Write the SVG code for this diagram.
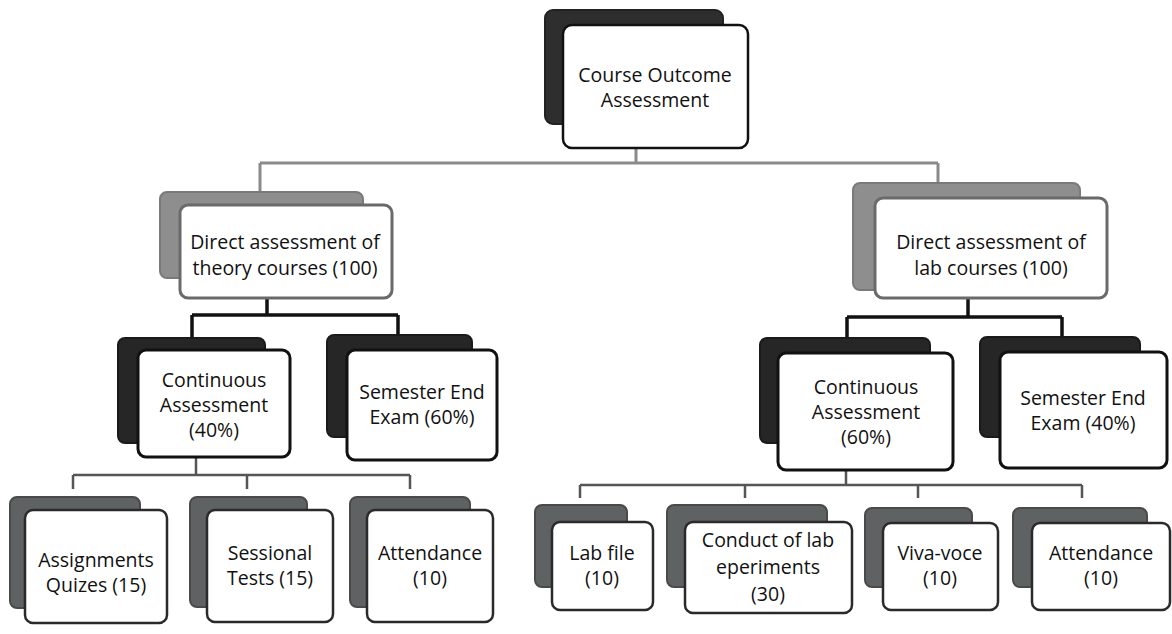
<svg xmlns="http://www.w3.org/2000/svg" width="1172" height="634" viewBox="0 0 1172 634">
<style>
text{font-family:"Open Sans","Liberation Sans",sans-serif;font-size:19.5px;fill:#111;text-anchor:middle}
.f{fill:#fff}
.s1{fill:#2e2e2e;stroke:#222;stroke-width:2}
.f1{stroke:#111;stroke-width:2.5}
.s2{fill:#8e8e8e;stroke:#7a7a7a;stroke-width:2}
.f2{stroke:#6a6a6a;stroke-width:3}
.s3{fill:#262626;stroke:#1a1a1a;stroke-width:2}
.f3{stroke:#111;stroke-width:3}
.s4{fill:#5f6262;stroke:#4a4a4a;stroke-width:2}
.f4{stroke:#2a2a2a;stroke-width:2.5}
.c1{stroke:#8a8a8a;stroke-width:3;fill:none}
.c2{stroke:#111;stroke-width:3.5;fill:none}
.c3{stroke:#555;stroke-width:2.5;fill:none}
</style>
<rect width="1172" height="634" fill="#fff"/>
<g id="connectors">
<path class="c1" d="M636 148V163M260 163H938M260 163V192M938 163V183"/>
<path class="c2" d="M267 298V315M192 315H398M192 315V338M398 315V335"/>
<path class="c2" d="M968 298V317M847 317H1062M847 317V338M1062 317V337"/>
<path class="c3" d="M196 457V475M73 475H410M73 475V489M247 475V489M410 475V489"/>
<path class="c3" d="M846 470V485M580 485H1082M580 485V498M745 485V498M918 485V498M1082 485V498"/>
</g>
<g id="course-outcome">
<rect class="s1" x="545" y="10" width="178" height="114" rx="8"/>
<rect class="f f1" x="563" y="25" width="185" height="123" rx="9"/>
<text x="655" y="82">Course Outcome</text>
<text x="655" y="107">Assessment</text>
</g>
<g id="theory">
<rect class="s2" x="160" y="192" width="203" height="86" rx="7"/>
<rect class="f f2" x="180" y="205" width="212" height="93" rx="8"/>
<text x="285" y="249">Direct assessment of</text>
<text x="285" y="275">theory courses (100)</text>
</g>
<g id="lab">
<rect class="s2" x="853" y="183" width="227" height="107" rx="7"/>
<rect class="f f2" x="875" y="198" width="232" height="100" rx="8"/>
<text x="991" y="249">Direct assessment of</text>
<text x="991" y="275">lab courses (100)</text>
</g>
<g id="theory-continuous">
<rect class="s3" x="118" y="338" width="147" height="105" rx="7"/>
<rect class="f f3" x="138" y="350" width="152" height="107" rx="8"/>
<text x="214" y="387">Continuous</text>
<text x="214" y="412">Assessment</text>
<text x="214" y="437">(40%)</text>
</g>
<g id="theory-semester">
<rect class="s3" x="327" y="335" width="145" height="102" rx="7"/>
<rect class="f f3" x="347" y="350" width="150" height="110" rx="8"/>
<text x="422" y="399">Semester End</text>
<text x="422" y="424">Exam (60%)</text>
</g>
<g id="lab-continuous">
<rect class="s3" x="760" y="338" width="170" height="105" rx="7"/>
<rect class="f f3" x="778" y="353" width="175" height="117" rx="8"/>
<text x="866" y="394">Continuous</text>
<text x="866" y="419">Assessment</text>
<text x="866" y="444">(60%)</text>
</g>
<g id="lab-semester">
<rect class="s3" x="980" y="337" width="160" height="100" rx="7"/>
<rect class="f f3" x="1000" y="352" width="167" height="116" rx="8"/>
<text x="1083" y="405">Semester End</text>
<text x="1083" y="430">Exam (40%)</text>
</g>
<g id="assignments">
<rect class="s4" x="10" y="497" width="130" height="111" rx="7"/>
<rect class="f f4" x="25" y="510" width="142" height="113" rx="8"/>
<text x="96" y="567">Assignments</text>
<text x="96" y="592">Quizes (15)</text>
</g>
<g id="sessional">
<rect class="s4" x="190" y="497" width="117" height="110" rx="7"/>
<rect class="f f4" x="207" y="510" width="126" height="112" rx="8"/>
<text x="270" y="560">Sessional</text>
<text x="270" y="585">Tests (15)</text>
</g>
<g id="theory-attendance">
<rect class="s4" x="350" y="497" width="120" height="110" rx="7"/>
<rect class="f f4" x="367" y="510" width="126" height="112" rx="8"/>
<text x="430" y="560">Attendance</text>
<text x="430" y="585">(10)</text>
</g>
<g id="lab-file">
<rect class="s4" x="535" y="505" width="92" height="82" rx="7"/>
<rect class="f f4" x="552" y="522" width="101" height="88" rx="8"/>
<text x="602" y="560">Lab file</text>
<text x="602" y="585">(10)</text>
</g>
<g id="conduct">
<rect class="s4" x="667" y="505" width="160" height="82" rx="7"/>
<rect class="f f4" x="685" y="522" width="167" height="91" rx="8"/>
<text x="768" y="547">Conduct of lab</text>
<text x="768" y="574">eperiments</text>
<text x="768" y="601">(30)</text>
</g>
<g id="viva">
<rect class="s4" x="865" y="508" width="107" height="79" rx="7"/>
<rect class="f f4" x="883" y="523" width="115" height="87" rx="8"/>
<text x="940" y="560">Viva-voce</text>
<text x="940" y="585">(10)</text>
</g>
<g id="lab-attendance">
<rect class="s4" x="1013" y="508" width="134" height="79" rx="7"/>
<rect class="f f4" x="1032" y="523" width="138" height="87" rx="8"/>
<text x="1101" y="560">Attendance</text>
<text x="1101" y="585">(10)</text>
</g>
</svg>
